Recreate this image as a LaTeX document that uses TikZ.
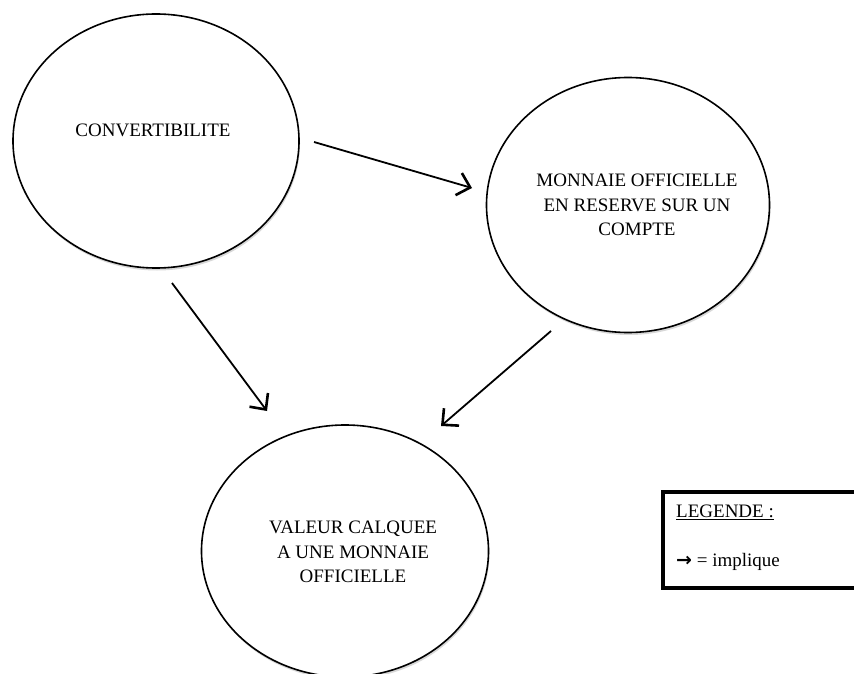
\documentclass[tikz,border=0pt]{standalone}
\usepackage{fontspec}
\setmainfont{Liberation Serif}
\usetikzlibrary{shapes.geometric,arrows.meta,shadows}
\begin{document}
\begin{tikzpicture}[x=1pt,y=-1pt,
  bubble/.style={ellipse,draw,line width=1.6pt,fill=white,inner sep=0pt,
    drop shadow={shadow xshift=1pt,shadow yshift=-2.5pt,opacity=0.3}},
  lbl/.style={align=center,font=\fontsize{19}{24.5}\selectfont,inner sep=0pt},
  implies/.style={line width=1.8pt,-{Straight Barb[length=12pt,width=23pt,line width=2.6pt]}},
  legendtext/.style={anchor=west,font=\fontsize{19}{24}\selectfont,inner sep=0pt}]
\useasboundingbox (0,0) rectangle (854,674);
\fill[white] (0,0) rectangle (854,674);
% ellipses
\node[bubble,minimum width=286pt,minimum height=254pt] (conv) at (156,141) {};
\node[bubble,minimum width=283pt,minimum height=255pt] (monn) at (628,205) {};
\node[bubble,minimum width=287pt,minimum height=252pt] (val) at (345,551) {};
% labels
\node[lbl] (convt) at (153,130) {CONVERTIBILITE};
\node[lbl] (monnt) at (637,205) {MONNAIE OFFICIELLE\\EN RESERVE SUR UN\\COMPTE};
\node[lbl] (valt) at (353,552) {VALEUR CALQUEE\\A UNE MONNAIE\\OFFICIELLE};
% arrows
\coordinate (a1s) at (314,142);
\coordinate (a1e) at (472,188);
\coordinate (a2s) at (172,283);
\coordinate (a2e) at (267,411);
\coordinate (a3s) at (551,331);
\coordinate (a3e) at (441,426);
\draw[implies] (a1s) -- (a1e);
\draw[implies] (a2s) -- (a2e);
\draw[implies] (a3s) -- (a3e);
% legend
\node[draw,line width=3.5pt,minimum width=200pt,minimum height=96pt,anchor=north west,inner sep=0pt] (legend) at (661,490) {};
\node[legendtext] (legt) at (676,512) {\underline{LEGENDE :}};
\node[legendtext] (lega) at (676,562) {{\fontspec{DejaVu Sans}\bfseries →} = implique};
\end{tikzpicture}
\end{document}
